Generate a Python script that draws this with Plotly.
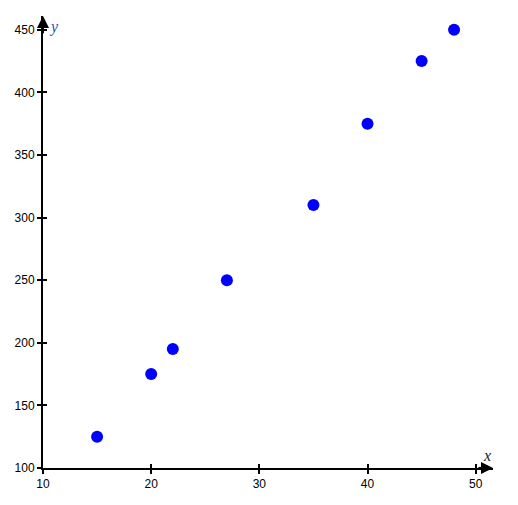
import plotly.graph_objects as go

x_vals = [15, 20, 22, 27, 35, 40, 45, 48]
y_vals = [125, 175, 195, 250, 310, 375, 425, 450]

x_ticks = [10, 20, 30, 40, 50]
y_ticks = [100, 150, 200, 250, 300, 350, 400, 450]

x_range = [10, 51.6]
y_range = [100, 461]

fig = go.Figure()
fig.add_trace(go.Scatter(
    x=x_vals, y=y_vals, mode="markers",
    marker=dict(color="#0000ff", size=12),
    cliponaxis=False, showlegend=False, hoverinfo="x+y",
))
# invisible trace on second axis pair so inside ticks get drawn
fig.add_trace(go.Scatter(x=[], y=[], xaxis="x2", yaxis="y2", showlegend=False))

axis_font = dict(family="Liberation Sans, Arial", size=12, color="black")
fig.update_layout(
    width=518, height=505,
    # page body has an 8px margin, so shift everything up-left to compensate
    margin=dict(l=35, r=33, t=8, b=45),
    plot_bgcolor="white", paper_bgcolor="white",
    xaxis=dict(range=x_range, tickvals=x_ticks, ticks="outside", ticklen=4,
               tickwidth=2, tickcolor="black", showgrid=False, zeroline=False,
               showline=True, linecolor="black", linewidth=2,
               tickfont=axis_font, fixedrange=True, automargin=False),
    yaxis=dict(range=y_range, tickvals=y_ticks, ticks="outside", ticklen=4,
               tickwidth=2, tickcolor="black", showgrid=False, zeroline=False,
               showline=True, linecolor="black", linewidth=2,
               tickfont=axis_font, ticklabelstandoff=0, fixedrange=True,
               automargin=False),
    xaxis2=dict(range=x_range, tickvals=x_ticks, ticks="inside", ticklen=4,
                tickwidth=2, tickcolor="black", showticklabels=False,
                showgrid=False, zeroline=False, overlaying="x", side="bottom",
                anchor="y2", fixedrange=True),
    yaxis2=dict(range=y_range, tickvals=y_ticks, ticks="inside", ticklen=4,
                tickwidth=2, tickcolor="black", showticklabels=False,
                showgrid=False, zeroline=False, overlaying="y", side="left",
                anchor="x2", fixedrange=True),
)

# arrowheads at the ends of the axes
fig.add_annotation(x=x_range[1], y=y_range[0], ax=x_range[1] - 1.5, ay=y_range[0],
                   xref="x", yref="y", axref="x", ayref="y", text="",
                   showarrow=True, arrowhead=2, arrowsize=1.2, arrowwidth=2,
                   arrowcolor="black")
fig.add_annotation(x=x_range[0], y=y_range[1], ax=x_range[0], ay=y_range[1] - 15,
                   xref="x", yref="y", axref="x", ayref="y", text="",
                   showarrow=True, arrowhead=2, arrowsize=1.2, arrowwidth=2,
                   arrowcolor="black")

# axis names
fig.add_annotation(x=x_range[1], y=y_range[0], xref="x", yref="y", text="<i>x</i>",
                   showarrow=False, xanchor="right", yanchor="bottom", yshift=2,
                   font=dict(family="Liberation Serif, Times New Roman", size=16,
                             color="#222222"))
fig.add_annotation(x=x_range[0], y=y_range[1], xref="x", yref="y", text="<i>y</i>",
                   showarrow=False, xanchor="left", yanchor="top", xshift=4,
                   font=dict(family="Liberation Serif, Times New Roman", size=16,
                             color="#3050b0"))

fig.write_html("out.html")
